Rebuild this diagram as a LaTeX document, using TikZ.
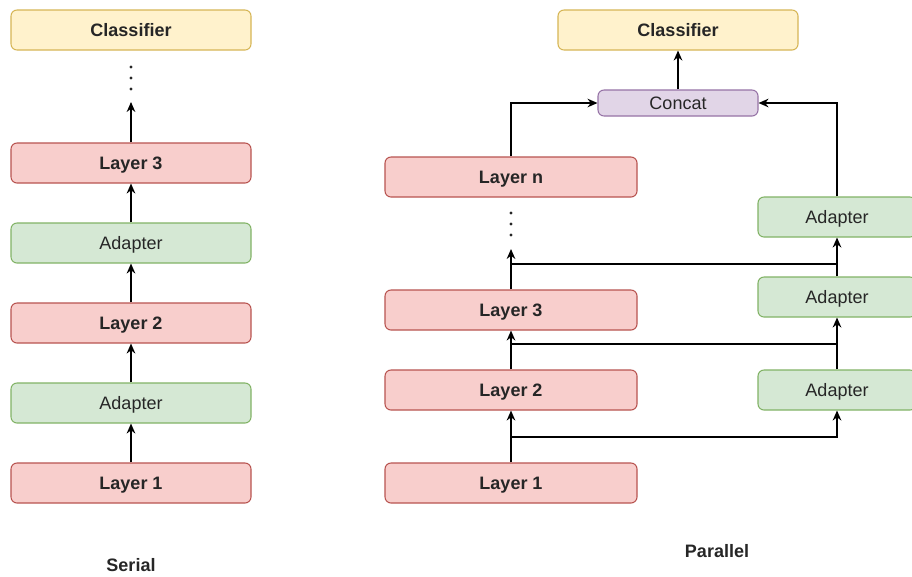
\documentclass[tikz,border=0pt]{standalone}
\usepackage{fontspec}
\setmainfont{Liberation Sans}
\usetikzlibrary{arrows.meta}

\definecolor{redfill}{HTML}{F8CECC}
\definecolor{redline}{HTML}{B85450}
\definecolor{greenfill}{HTML}{D5E8D4}
\definecolor{greenline}{HTML}{82B366}
\definecolor{yellowfill}{HTML}{FFF2CC}
\definecolor{yellowline}{HTML}{D6B656}
\definecolor{purplefill}{HTML}{E1D5E7}
\definecolor{purpleline}{HTML}{9673A6}
\definecolor{txt}{HTML}{262626}

\newlength\pxu
\setlength\pxu{0.75pt}

\begin{document}
\begin{tikzpicture}[
  x=0.75pt, y=-0.75pt,
  box/.style={rounded corners=4.5pt, line width=0.8pt, text=txt,
    font=\fontsize{13.5}{16}\selectfont, inner sep=0pt,
    text height=9.67pt, text depth=0pt},
  layerbox/.style={box, fill=redfill, draw=redline, font=\fontsize{13.5}{16}\selectfont\bfseries,
    minimum height=40\pxu},
  adapterbox/.style={box, fill=greenfill, draw=greenline, minimum height=40\pxu},
  clsbox/.style={box, fill=yellowfill, draw=yellowline, font=\fontsize{13.5}{16}\selectfont\bfseries,
    minimum width=240\pxu, minimum height=40\pxu},
  catbox/.style={box, fill=purplefill, draw=purpleline, minimum width=160\pxu, minimum height=26\pxu},
  arr/.style={draw=black, line width=1pt, -{Stealth[length=7.5pt,width=6.5pt]}},
  link/.style={draw=black, line width=1pt},
  dotmark/.style={circle, fill=black!85, inner sep=0pt, minimum size=2.4pt},
  caption/.style={text=txt, font=\fontsize{13.5}{16}\selectfont\bfseries}
]
\useasboundingbox (0,0) rectangle (912,576);
\clip (0,0) rectangle (912,576);
\fill[white] (0,0) rectangle (912,576);

% ---------------- serial stack ----------------
\node[clsbox] (sCls) at (131,30) {Classifier};
\node[layerbox, minimum width=240\pxu] (sL3) at (131,163) {Layer 3};
\node[adapterbox, minimum width=240\pxu] (sA2) at (131,243) {Adapter};
\node[layerbox, minimum width=240\pxu] (sL2) at (131,323) {Layer 2};
\node[adapterbox, minimum width=240\pxu] (sA1) at (131,403) {Adapter};
\node[layerbox, minimum width=240\pxu] (sL1) at (131,483) {Layer 1};
\coordinate (sTip) at (131,102);
\node[dotmark] (sd1) at (131,67) {};
\node[dotmark] (sd2) at (131,78) {};
\node[dotmark] (sd3) at (131,89) {};

\draw[arr] (sL1.north) -- (sA1.south);
\draw[arr] (sA1.north) -- (sL2.south);
\draw[arr] (sL2.north) -- (sA2.south);
\draw[arr] (sA2.north) -- (sL3.south);
\draw[arr] (sL3.north) -- (sTip);

\node[caption] (serialLabel) at (131,565) {Serial};

% ---------------- parallel stack ----------------
\node[clsbox] (pCls) at (678,30) {Classifier};
\node[catbox] (cat) at (678,103) {Concat};
\node[layerbox, minimum width=252\pxu] (pLn) at (511,177) {Layer n};
\node[layerbox, minimum width=252\pxu] (pL3) at (511,310) {Layer 3};
\node[layerbox, minimum width=252\pxu] (pL2) at (511,390) {Layer 2};
\node[layerbox, minimum width=252\pxu] (pL1) at (511,483) {Layer 1};
\node[adapterbox, minimum width=158\pxu] (pA3) at (837,217) {Adapter};
\node[adapterbox, minimum width=158\pxu] (pA2) at (837,297) {Adapter};
\node[adapterbox, minimum width=158\pxu] (pA1) at (837,390) {Adapter};

\node[dotmark] (pd1) at (511,213) {};
\node[dotmark] (pd2) at (511,224) {};
\node[dotmark] (pd3) at (511,235) {};
\coordinate (pTip) at (511,249);

\coordinate (j1) at (511,437);
\coordinate (k1) at (837,437);
\coordinate (j2) at (511,344);
\coordinate (k2) at (837,344);
\coordinate (j3) at (511,264);
\coordinate (k3) at (837,264);

% main path through the layers
\draw[arr] (pL1.north) -- (pL2.south);
\draw[arr] (pL2.north) -- (pL3.south);
\draw[arr] (pL3.north) -- (pTip);

% side branches feeding the adapter chain
\draw[arr] (j1) -- (k1) -- (pA1.south);
\draw[link] (j2) -- (k2);
\draw[link] (j3) -- (k3);
\draw[arr] (pA1.north) -- (pA2.south);
\draw[arr] (pA2.north) -- (pA3.south);

% merge and classify
\draw[arr] (pLn.north) |- (cat.west);
\draw[arr] (pA3.north) |- (cat.east);
\draw[arr] (cat.north) -- (pCls.south);

\node[caption] (parallelLabel) at (717,551) {Parallel};
\end{tikzpicture}
\end{document}
